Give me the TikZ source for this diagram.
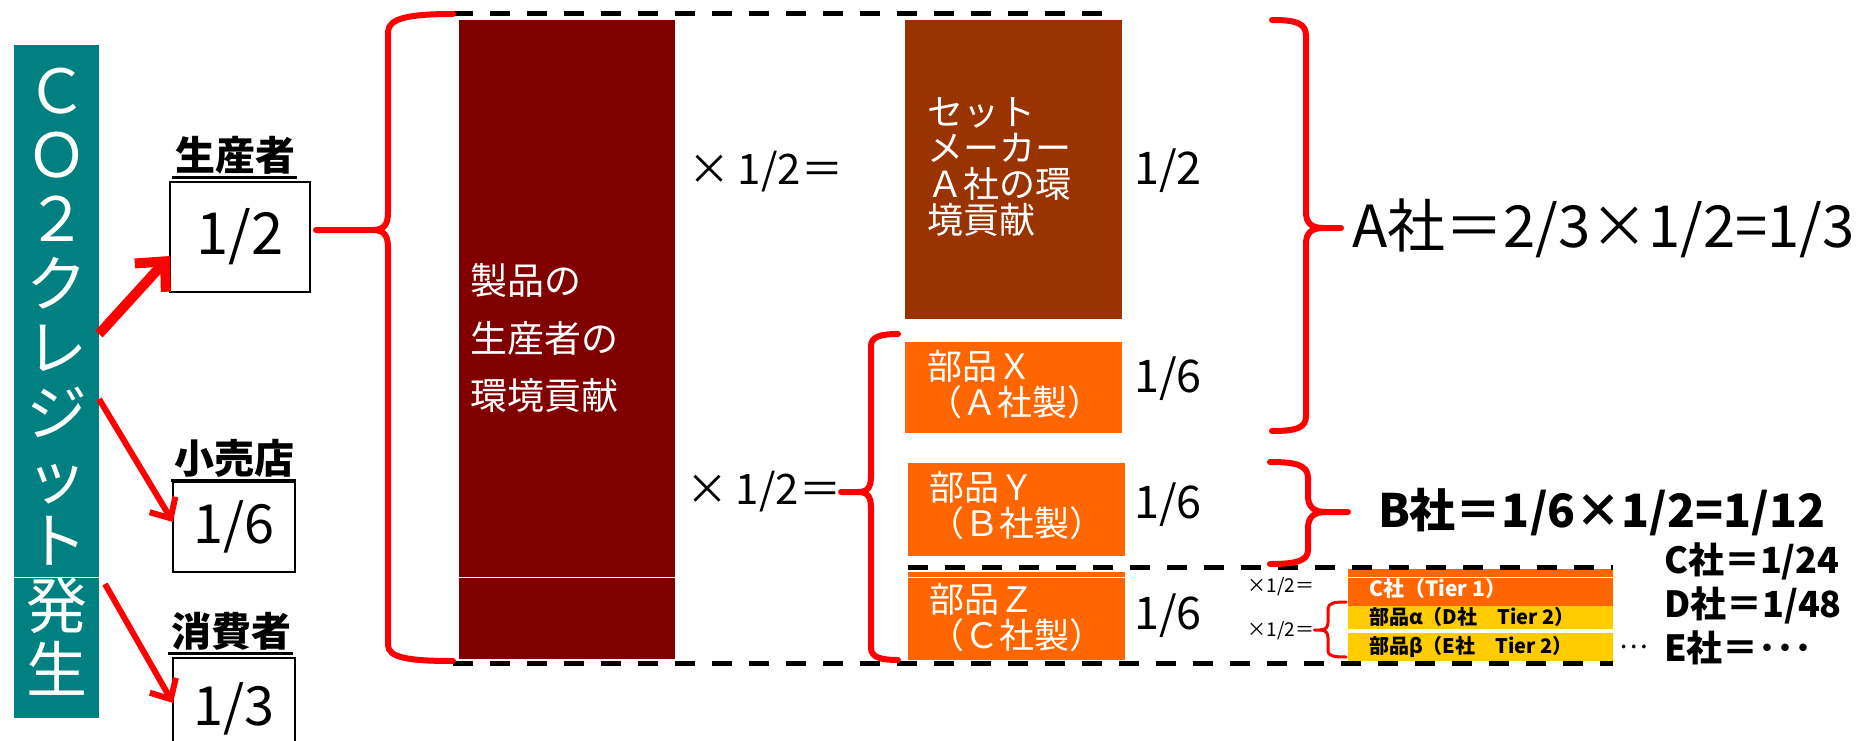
\documentclass[tikz,border=0pt]{standalone}
\usepackage{fontspec}
\setmainfont{Noto Sans CJK JP}
\usetikzlibrary{arrows.meta}
\definecolor{tealbox}{RGB}{0,128,128}
\definecolor{prodred}{RGB}{128,0,0}
\definecolor{setbrown}{RGB}{153,51,0}
\definecolor{partorange}{RGB}{255,102,0}
\definecolor{partyellow}{RGB}{255,204,0}
\definecolor{bracered}{RGB}{255,0,0}
\newcommand{\fs}[2]{\fontsize{#1}{#2}\selectfont}
\begin{document}
\begin{tikzpicture}[x=1pt,y=-1pt,
  every node/.style={inner sep=0pt, outer sep=0pt},
  credbox/.style={fill=tealbox, text=white, align=center, font=\fs{61}{64.4}},
  numbox/.style={draw=black, line width=2pt, fill=white},
  role/.style={font=\fs{40}{44}\bfseries, anchor=south},
  uline/.style={line width=3pt},
  bigtxt/.style={text=white, align=left, anchor=west},
  redbrace/.style={draw=bracered, line width=6pt, line cap=round, line join=round},
  thinbrace/.style={draw=bracered, line width=3pt, line cap=round, line join=round},
  dashline/.style={draw=black, line width=5pt, dash pattern=on 20pt off 17pt},
  redarrowA/.style={draw=bracered, line width=10pt, -{Straight Barb[length=22pt,width=42pt]}},
  redarrowB/.style={draw=bracered, line width=6pt, -{Straight Barb[length=16pt,width=30pt]}},
  wline/.style={draw=white, line width=1.5pt}]
\path[use as bounding box, fill=white] (0,0) rectangle (1868,741);

% boxes
\node[credbox, minimum width=85, minimum height=673] (credit) at (56.5,381.5) {Ｃ\\Ｏ\\２\\ク\\レ\\ジ\\ッ\\ト\\発\\生};
\node[fill=prodred, minimum width=216, minimum height=639] (prod) at (567,339.5) {};
\node[fill=setbrown, minimum width=217, minimum height=299] (setm) at (1013.5,169.5) {};
\node[fill=partorange, minimum width=217, minimum height=91] (px) at (1013.5,387.5) {};
\node[fill=partorange, minimum width=217, minimum height=93] (py) at (1016.5,509.5) {};
\node[fill=partorange, minimum width=217, minimum height=88] (pz) at (1016.5,616) {};
\node[fill=partorange, minimum width=265, minimum height=37] (tc) at (1480.5,587.5) {};
\node[fill=partyellow, minimum width=265, minimum height=23] (ta) at (1480.5,617.5) {};
\node[fill=partyellow, minimum width=265, minimum height=28] (tb) at (1480.5,647) {};

\coordinate (wl) at (0,577.5);
\foreach \n in {credit,prod,pz,tc} \draw[wline] (\n.west |- wl) -- (\n.east |- wl);

% number boxes and role labels
\node[numbox, minimum width=140, minimum height=110, font=\fs{58}{60}] (b1) at (240,237) {1/2};
\node[numbox, minimum width=122, minimum height=90, font=\fs{54}{56}] (b2) at (234,527) {1/6};
\node[numbox, minimum width=122, minimum height=102, font=\fs{54}{56}] (b3) at (234,709) {1/3};
\node[role] (l1) at (235,174) {生産者};
\node[role] (l2) at (234,477) {小売店};
\node[role] (l3) at (231,650) {消費者};
\foreach \n in {l1,l2,l3} \draw[uline] ([yshift=-3pt,xshift=-3pt]\n.south west) -- ([yshift=-3pt,xshift=2pt]\n.south east);

% texts in boxes
\node[bigtxt, font=\fs{37}{57.7}] (prodtxt) at (470,338) {製品の\\生産者の\\環境貢献};
\node[bigtxt, font=\fs{36}{36}] (setmtxt) at (927,167.5) {セット\\メーカー\\Ａ社の環\\境貢献};
\node[bigtxt, font=\fs{35}{36}] (pxt) at (927,385) {部品Ｘ\\（Ａ社製）};
\node[bigtxt, font=\fs{35}{36}] (pyt) at (929,506) {部品Ｙ\\（Ｂ社製）};
\node[bigtxt, font=\fs{35}{36}] (pzt) at (929,617.5) {部品Ｚ\\（Ｃ社製）};
\node[anchor=west, text=white, font=\fs{21}{22}\bfseries] (tct) at (1369,589) {C社（Tier 1）};
\node[anchor=west, font=\fs{20}{22}\bfseries] (tat) at (1369,617) {部品α（D社　Tier 2）};
\node[anchor=west, font=\fs{20}{22}\bfseries] (tbt) at (1369,647) {部品β（E社　Tier 2）};

% fractions and multipliers
\node[font=\fs{45}{48}] (f1) at (1168,171) {1/2};
\node[font=\fs{45}{48}] (f2) at (1168,379) {1/6};
\node[font=\fs{45}{48}] (f3) at (1168,505) {1/6};
\node[font=\fs{45}{48}] (f4) at (1168,616) {1/6};
\node[font=\fs{42}{44}] (m1) at (766,172) {×\,1/2＝};
\node[font=\fs{42}{44}] (m2) at (764,492) {×\,1/2＝};
\node[font=\fs{19}{20}] (sm1) at (1281,587) {×1/2＝};
\node[font=\fs{19}{20}] (sm2) at (1281,631) {×1/2＝};
\node[anchor=west, font=\fs{27}{28}] (dots) at (1619,647) {…};

% results
\node[anchor=west, font=\fs{58}{60}] (aa) at (1352,228) {A社＝2/3×1/2=1/3};
\node[anchor=west, font=\fs{46}{50}\bfseries] (bb) at (1378,512) {B社＝1/6×1/2=1/12};
\node[anchor=west, font=\fs{36}{38}\bfseries] (cc) at (1664,561) {C社＝1/24};
\node[anchor=west, font=\fs{36}{38}\bfseries] (dd) at (1664,605) {D社＝1/48};
\node[anchor=west, font=\fs{36}{38}\bfseries] (ee) at (1664,648) {E社＝･･･};

% dashed lines
\draw[dashline] (453,14) -- (1111,14);
\draw[dashline] (908,567) -- (1613,567);
\draw[dashline] (453,663) -- (1613,663);

% braces
\coordinate (ty) at (0,230);
\draw[redbrace] ([xshift=6pt]b1.east |- ty) -- (372,230) .. controls (384,230) and (388,225) .. (388,212) -- (388,32) .. controls (388,18) and (410,14) .. (453,14);
\draw[redbrace] (372,230) .. controls (384,230) and (388,235) .. (388,248) -- (388,645) .. controls (388,658) and (410,661) .. (453,661);

\draw[redbrace] (m2.east) -- (858,492) .. controls (868,492) and (871,487) .. (871,476) -- (871,346) .. controls (871,337) and (880,334) .. (898,334);
\draw[redbrace] (858,492) .. controls (868,492) and (871,497) .. (871,508) -- (871,648) .. controls (871,657) and (880,660) .. (898,660);

\draw[redbrace] ([xshift=-11pt]aa.west) -- (1324,228) .. controls (1311,228) and (1306,223) .. (1306,212) -- (1306,36) .. controls (1306,23) and (1296,20) .. (1272,20);
\draw[redbrace] (1324,228) .. controls (1311,228) and (1306,233) .. (1306,244) -- (1306,416) .. controls (1306,428) and (1296,431) .. (1272,431);

\draw[redbrace] ([xshift=-30pt]bb.west) -- (1326,512) .. controls (1314,512) and (1308,507) .. (1308,496) -- (1308,478) .. controls (1308,465) and (1296,462) .. (1270,462);
\draw[redbrace] (1326,512) .. controls (1314,512) and (1308,517) .. (1308,528) -- (1308,550) .. controls (1308,561) and (1296,564) .. (1270,564);

\coordinate (sty) at (0,630);
\draw[thinbrace] (sm2.east |- sty) -- (1320,630) .. controls (1326,630) and (1328,627) .. (1328,622) -- (1328,609) .. controls (1328,603) and (1334,602) .. (1346,602);
\draw[thinbrace] (1320,630) .. controls (1326,630) and (1328,633) .. (1328,638) -- (1328,651) .. controls (1328,656) and (1334,657) .. (1346,657);

% arrows
\coordinate (y1s) at (0,334); \coordinate (y1e) at (0,256);
\coordinate (y2s) at (0,399); \coordinate (y2e) at (0,522);
\coordinate (y3s) at (0,584); \coordinate (y3e) at (0,703);
\draw[redarrowA] (credit.east |- y1s) -- (b1.west |- y1e);
\draw[redarrowB] (credit.east |- y2s) -- (b2.west |- y2e);
\draw[redarrowB] ([xshift=6pt]credit.east |- y3s) -- (b3.west |- y3e);
\end{tikzpicture}
\end{document}
